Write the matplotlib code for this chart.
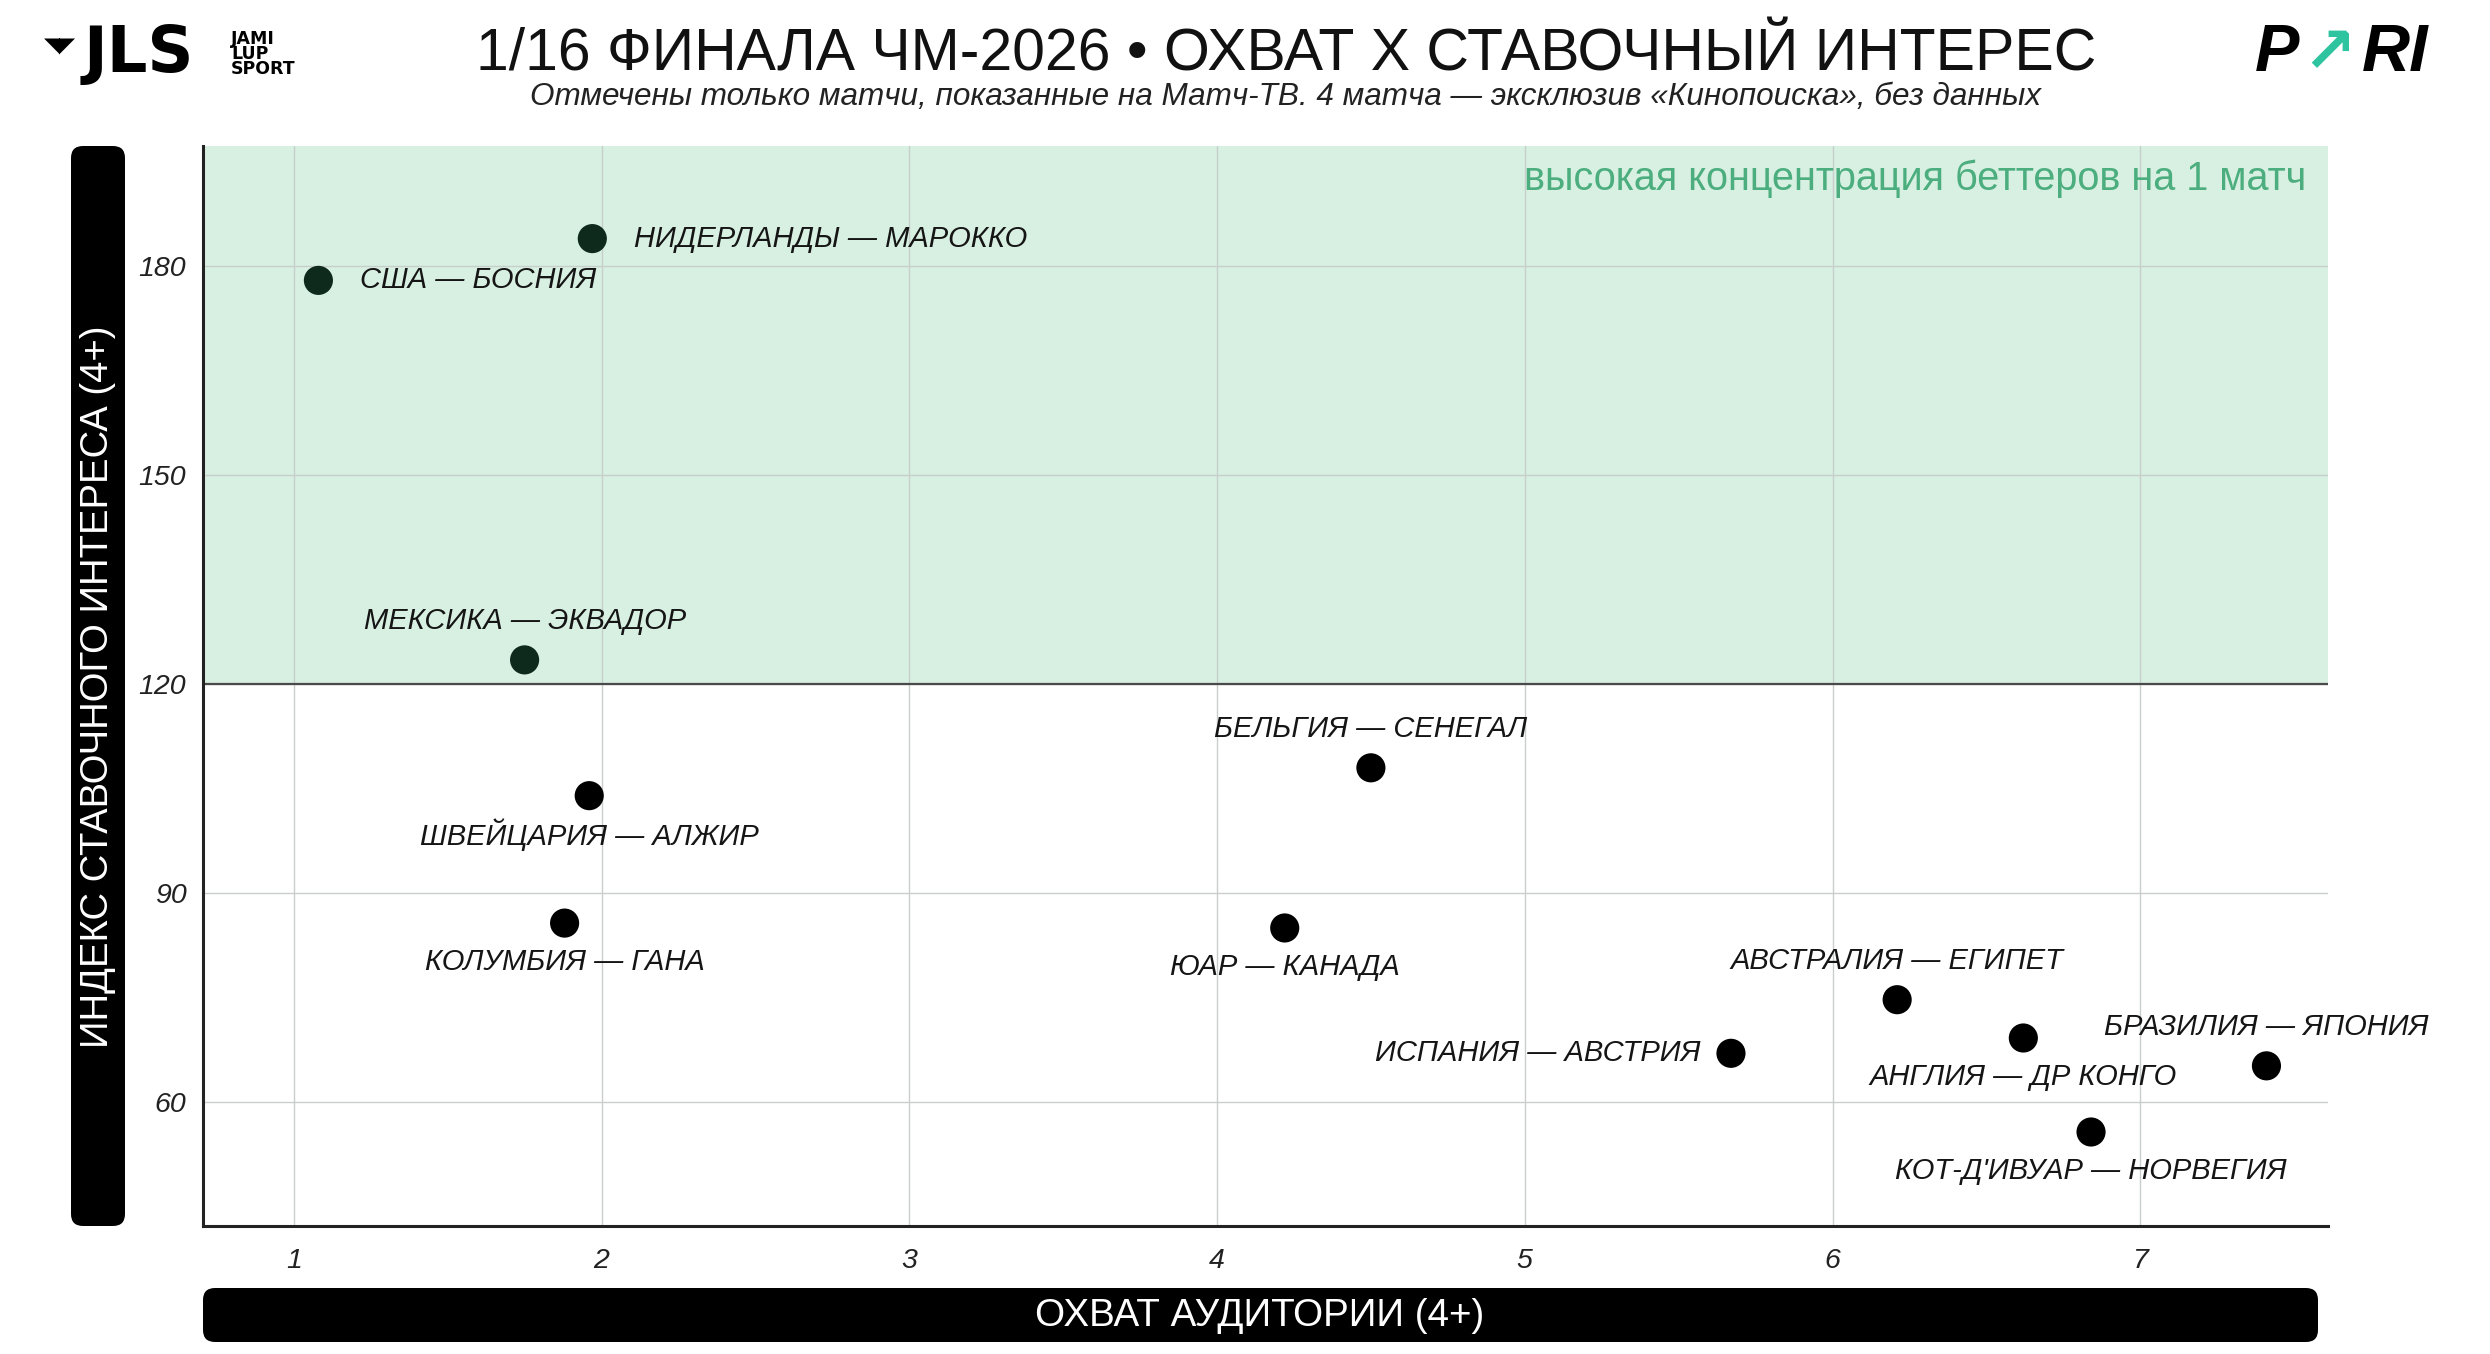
import matplotlib
matplotlib.use("Agg")
import matplotlib.pyplot as plt
from matplotlib.patches import FancyBboxPatch

plt.rcParams['font.family'] = ['Liberation Sans', 'DejaVu Sans']

# ---- data ----
matches = ["США — БОСНИЯ", "НИДЕРЛАНДЫ — МАРОККО", "МЕКСИКА — ЭКВАДОР",
           "ШВЕЙЦАРИЯ — АЛЖИР", "КОЛУМБИЯ — ГАНА", "БЕЛЬГИЯ — СЕНЕГАЛ",
           "ЮАР — КАНАДА", "ИСПАНИЯ — АВСТРИЯ", "АВСТРАЛИЯ — ЕГИПЕТ",
           "АНГЛИЯ — ДР КОНГО", "БРАЗИЛИЯ — ЯПОНИЯ", "КОТ-Д'ИВУАР — НОРВЕГИЯ"]
reach = [1.08, 1.97, 1.75, 1.96, 1.88, 4.50, 4.22, 5.67, 6.21, 6.62, 7.41, 6.84]
bet_index = [178, 184, 123.5, 104, 85.7, 108, 85, 67, 74.7, 69.2, 65.2, 55.7]
label_pos = ["right", "right", "above", "below", "below", "above",
             "below", "left", "above", "below", "above", "below"]
x_ticks = [1, 2, 3, 4, 5, 6, 7]
y_ticks = [60, 90, 120, 150, 180]
threshold = 120

title = "1/16 ФИНАЛА ЧМ-2026 • ОХВАТ Х СТАВОЧНЫЙ ИНТЕРЕС"
subtitle = "Отмечены только матчи, показанные на Матч-ТВ. 4 матча — эксклюзив «Кинопоиска», без данных"
zone_text = "высокая концентрация беттеров на 1 матч"
xlabel = "ОХВАТ АУДИТОРИИ (4+)"
ylabel = "ИНДЕКС СТАВОЧНОГО ИНТЕРЕСА (4+)"

# ---- figure ----
W, H = 2490, 1354
fig = plt.figure(figsize=(W / 100, H / 100), dpi=100)
fig.patch.set_facecolor("white")

ax_l, ax_r, ax_t, ax_b = 203, 2328, 146, 1226
ax = fig.add_axes([ax_l / W, 1 - ax_b / H, (ax_r - ax_l) / W, (ax_b - ax_t) / H])
ax.set_xlim(0.705, 7.61)
ax.set_ylim(42.2, 197.3)

green_bg = "#d8f0e2"
ax.axhspan(threshold, 197.3, color=green_bg, zorder=0, lw=0)
ax.axhline(threshold, color="#4a4a4a", lw=1.6, zorder=2)

ax.set_xticks(x_ticks)
ax.set_yticks(y_ticks)
ax.grid(True, color="#c8cfca", lw=1.0, zorder=1)
ax.set_axisbelow(True)
for s in ["top", "right"]:
    ax.spines[s].set_visible(False)
for s in ["left", "bottom"]:
    ax.spines[s].set_color("#222222")
    ax.spines[s].set_linewidth(2.2)
ax.tick_params(length=0, labelsize=20.5, colors="#222222", pad=16)
ax.tick_params(axis="y", pad=12)
for lab in ax.get_xticklabels() + ax.get_yticklabels():
    lab.set_fontstyle("italic")

colors = ["#0e2a1c" if y >= threshold else "#000000" for y in bet_index]
ax.scatter(reach, bet_index, s=440, c=colors, zorder=4, lw=0)

offsets = {"right": ((30, 0), "left", "center"),
           "left": ((-22, 0), "right", "center"),
           "above": ((0, 28), "center", "center"),
           "below": ((0, -28), "center", "center")}
for name, x, y, p in zip(matches, reach, bet_index, label_pos):
    off, ha, va = offsets[p]
    ax.annotate(name, (x, y), xytext=off, textcoords="offset points",
                ha=ha, va=va, fontsize=21, fontstyle="italic", color="#151515", zorder=5)

ax.text(0.99, 0.97, zone_text, transform=ax.transAxes, ha="right", va="center",
        fontsize=28.5, color="#4cae7e", zorder=5)

# ---- axis label bars ----
def bar(x0, y0, x1, y1):
    r = 0.12
    p = FancyBboxPatch((x0 / 100 + r, (H - y1) / 100 + r), (x1 - x0) / 100 - 2 * r, (y1 - y0) / 100 - 2 * r,
                       boxstyle=f"round,pad={r},rounding_size={r}", transform=fig.dpi_scale_trans,
                       facecolor="black", edgecolor="none")
    fig.patches.append(p)

bar(71, 146, 125, 1226)
bar(203, 1288, 2318, 1342)
fig.text(98 / W, 1 - 687 / H, ylabel, rotation=90, ha="center", va="center",
         color="white", fontsize=27.5)
fig.text(1260 / W, 1 - 1316 / H, xlabel, ha="center", va="center",
         color="white", fontsize=27.8)

# ---- titles ----
fig.text(1286 / W, 1 - 55 / H, title, ha="center", va="center", fontsize=42.4, color="#111111")
fig.text(1286 / W, 1 - 97 / H, subtitle, ha="center", va="center", fontsize=22.7,
         fontstyle="italic", color="#222222")

# ---- logos (text) ----
fig.text(44 / W, 1 - 46 / H, "◥◤", ha="left", va="center", fontsize=15, color="black",
         family=["DejaVu Sans"])
fig.text(84 / W, 1 - 54 / H, "JLS", ha="left", va="center", fontsize=46,
         fontweight="heavy", color="black", family=["DejaVu Sans"])
fig.text(231 / W, 1 - 54 / H, "JAMI\nLUP\nSPORT", ha="left", va="center", fontsize=12.5,
         fontweight="bold", color="black", linespacing=0.8, family=["DejaVu Sans"])

fig.text(2255 / W, 1 - 54 / H, "P", ha="left", va="center", fontsize=48,
         fontweight="bold", fontstyle="italic", color="black")
fig.text(2302 / W, 1 - 54 / H, "↗", ha="left", va="center", fontsize=46,
         fontweight="bold", color="#2ec4a0", family=["DejaVu Sans"])
fig.text(2362 / W, 1 - 54 / H, "RI", ha="left", va="center", fontsize=48,
         fontweight="bold", fontstyle="italic", color="black")

fig.savefig("out.png", dpi=100)
